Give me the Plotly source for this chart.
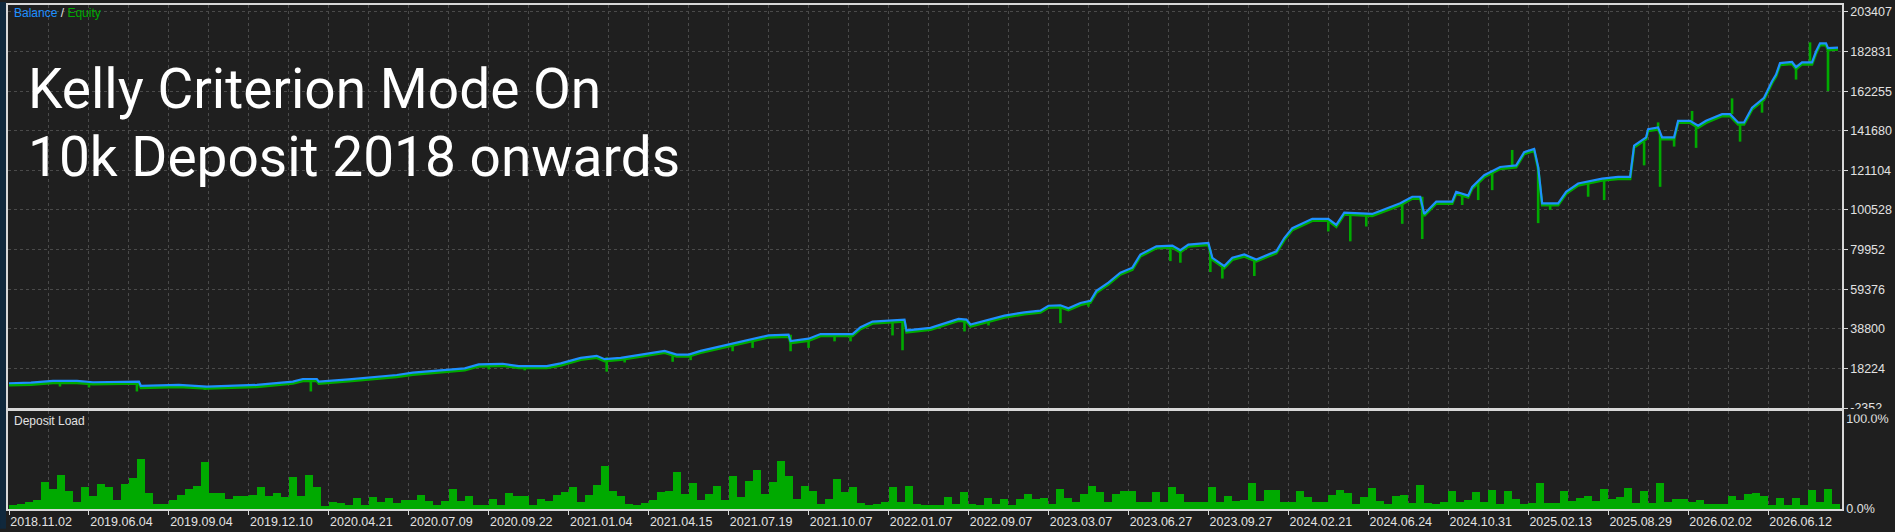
import plotly.graph_objects as go

# ---------------- data ----------------
date_labels = ["2018.11.02", "2019.06.04", "2019.09.04", "2019.12.10", "2020.04.21",
               "2020.07.09", "2020.09.22", "2021.01.04", "2021.04.15", "2021.07.19",
               "2021.10.07", "2022.01.07", "2022.09.07", "2023.03.07", "2023.06.27",
               "2023.09.27", "2024.02.21", "2024.06.24", "2024.10.31", "2025.02.13",
               "2025.08.29", "2026.02.02", "2026.06.12"]
date_label_trades = [0, 20, 40, 60, 80, 100, 120, 140, 160, 180, 200, 220, 240, 260,
                     280, 300, 320, 340, 360, 380, 400, 420, 440]
grid_trades = [10, 30, 50, 70, 90, 110, 130, 150, 170, 190, 210, 230, 250, 270, 290,
               310, 330, 350, 370, 390, 410, 430, 450]

balance_y_ticks = [-2352, 18224, 38800, 59376, 79952, 100528, 121104, 141680,
                   162255, 182831, 203407]
load_ticks = [0, 100]
load_tick_text = ["0.0%", "100.0%"]

balance_trade = [0, 5.5, 11, 17, 21, 27, 32.5, 33, 42.5, 49.5, 62, 71, 73.5, 77, 77.5,
                 85, 91, 97, 101, 107, 114, 117.5, 123.5, 127.5, 134.5, 138, 143, 147,
                 149, 153, 156.5, 164, 167, 170, 173, 180, 187, 190, 195, 195.5, 200,
                 203, 211, 213, 216, 224, 224.5, 230.5, 237.5, 239.5, 240.5, 245.5, 249,
                 254, 258, 260, 263, 265, 268, 270.5, 272, 275, 278, 281, 283, 287, 291,
                 293, 295, 300, 301, 304, 306, 309, 312, 317, 319, 321, 326, 330, 332,
                 334, 341, 348, 351, 353, 354, 357, 361, 362, 365, 366, 369, 373, 377,
                 379, 381.5, 382.5, 383.5, 387.5, 389.5, 392.5, 398.5, 402.5, 405.5,
                 406.5, 409.5, 410, 412.5, 413.5, 416.5, 417.5, 420.5, 422.5, 424.5,
                 428.5, 430.5, 432.5, 434, 436, 439, 441, 442, 443, 446, 447, 448.5, 451,
                 452, 453, 454.5, 455, 457.5]
balance_value = [10500, 10800, 11700, 11700, 11020, 11360, 11360, 9120, 9630, 8800,
                 9630, 11360, 12720, 12720, 11360, 12550, 13600, 14800, 16000, 17030,
                 18224, 20280, 20620, 19400, 19400, 20800, 23700, 24750, 23000, 23700,
                 24750, 27320, 25420, 25420, 27320, 30570, 34010, 35350, 35700, 32440,
                 33650, 36050, 36050, 39630, 42560, 43570, 37930, 39300, 43940, 43570,
                 41020, 43570, 45640, 47360, 48210, 50780, 51000, 49450, 52170, 53360,
                 58500, 62830, 67970, 70540, 77380, 81660, 82010, 79590, 82520, 83380,
                 75670, 71380, 75670, 77380, 74800, 79080, 85940, 91080, 95900, 95900,
                 92800, 99130, 98470, 103970, 107400, 107400, 98470, 104830, 104830,
                 109970, 108000, 112540, 118550, 122830, 123690, 130550, 132260, 122830,
                 103970, 103970, 109970, 114250, 116830, 117690, 117690, 133970, 138250,
                 142530, 143390, 138250, 138250, 146820, 146820, 144250, 146820, 150260,
                 150260, 145960, 145960, 153690, 158830, 167400, 170830, 176800, 177400,
                 174700, 177200, 177170, 182830, 187110, 187110, 184550, 184890]

# equity excursions away from balance (trade, from, to)
equity_spike_trade = [12.75, 20, 32, 49, 75.5, 110, 120, 129, 149.5, 154, 166, 170.5,
                      181, 186, 195.5, 200, 206.5, 210.5, 221, 223.5, 239, 245, 263,
                      270, 290.5, 293, 300.5, 303.5, 311.5, 330, 335.5, 339.5, 348.5,
                      353.5, 363.5, 367.5, 371, 376, 382.5, 385.5, 395, 399, 409, 412.5,
                      413, 416.5, 421, 422, 431, 433, 438.5, 447, 450.5, 455]
equity_spike_from = [11700, 11300, 11360, 8800, 12720, 17500, 20400, 19400, 24000, 23900,
                     26000, 25420, 31000, 33500, 35700, 33650, 36050, 36050, 43000,
                     43570, 43570, 43400, 51000, 53360, 82010, 80000, 80000, 71380,
                     75000, 95900, 99130, 98470, 104000, 107400, 109000, 115000, 120000,
                     123690, 122830, 103970, 115000, 116830, 136000, 143390, 140000,
                     138250, 146820, 144250, 150260, 145960, 157000, 176000, 177170,
                     184550]
equity_spike_to = [8810, 8290, 6240, 7080, 6240, 16170, 17710, 17190, 16530, 21310,
                   21650, 22500, 27120, 28870, 27120, 28870, 32270, 32270, 35350, 27640,
                   37410, 40500, 41730, 50270, 73950, 73110, 68270, 64880, 66220, 89360,
                   84220, 91930, 93330, 85420, 103100, 105670, 110820, 131700, 93680,
                   100530, 107400, 105670, 123690, 146000, 112540, 133450, 151970,
                   132770, 158500, 136020, 151080, 168260, 187600, 162255]

deposit_load = [5, 6, 8, 10, 30, 22, 38, 20, 8, 25, 15, 28, 24, 10, 28, 34, 55, 18, 6, 6,
                10, 16, 22, 26, 52, 18, 18, 11, 14, 14, 16, 25, 15, 18, 13, 36, 14, 38,
                24, 3, 8,
                7, 5, 12, 5, 13, 8, 12, 7, 10, 10, 16, 9, 5, 9, 22, 9, 15, 5, 5, 11,
                5, 18, 15, 15, 5, 11, 9, 16, 19, 24, 8, 16, 27, 48, 20,
                14, 6, 5, 7, 10, 19, 20, 41, 17, 29, 10, 17, 26, 10, 37, 13, 31, 43, 17,
                30, 53, 37, 11, 26, 20, 6, 11, 33, 19, 24, 7, 5, 6, 8, 24, 8, 26, 6, 5,
                5, 5, 13, 6, 19, 6, 4, 12, 6, 11, 5, 11, 17, 11, 12, 6, 22, 12, 8, 17,
                26, 19, 8, 17, 20, 20, 8, 8, 19, 8, 25, 17, 8, 8, 8, 25, 8, 14,
                9, 10, 29, 9, 21, 21, 8, 8, 20, 13, 8, 8, 16, 21, 18, 6, 13, 23, 9, 6,
                15, 16, 7, 27, 7, 6, 8, 20, 8, 10, 19, 8, 21, 6, 20, 11, 6, 7, 29, 7,
                7, 20, 9, 12, 15, 9, 22, 11, 13, 23, 7, 20, 7, 29, 8, 11, 11, 8, 10, 6,
                6, 6, 15, 10, 17, 18, 14, 5, 12, 5, 12, 5, 21, 8, 22, 6]
load_trade_step = 2  # one deposit-load reading every 2 trades

# ---------------- styling ----------------
W, H = 1895, 532
ML, MR, MT, MB = 8, 52, 3, 20
PW, PH = W - ML - MR, H - MT - MB
BG = "#1f1f1f"
GRID = "#4a4a4a"
FRAME = "#d8d8d8"
TXT = "#e2e2e2"
BLUE = "#1e90ff"
GREEN = "#00aa00"
TICKFONT = dict(family="Liberation Sans", size=12.5, color=TXT)
Y_MIN, Y_MAX = -2352, 207000
EQ_OFFSET = 1000  # draws the equity line ~2px under the balance line (visual offset)


def py(p):  # pixel row -> paper y
    return (H - MB - p) / PH


def px(p):  # pixel column -> paper x
    return (p - ML) / PW


main_dom = [py(410), 1.0]
load_dom = [0.0, py(413)]
x_range = [-0.25, 458.5]

fig = go.Figure()

# equity excursions (main axis, drawn first)
sx, sy = [], []
for t, a, b in zip(equity_spike_trade, equity_spike_from, equity_spike_to):
    sx += [t, t, None]
    sy += [a, b, None]
fig.add_trace(go.Scatter(x=sx, y=sy, mode="lines", line=dict(color=GREEN, width=2.6),
                         hoverinfo="skip", xaxis="x", yaxis="y", showlegend=False))
# equity base line (overlay axis shifted slightly so it shows below balance)
fig.add_trace(go.Scatter(x=balance_trade, y=balance_value, mode="lines",
                         line=dict(color=GREEN, width=2.6), hoverinfo="skip",
                         xaxis="x", yaxis="y3", showlegend=False))
# balance (top overlay, same scale as main axis)
fig.add_trace(go.Scatter(x=balance_trade, y=balance_value, mode="lines",
                         line=dict(color=BLUE, width=2.2), name="Balance",
                         xaxis="x", yaxis="y4", showlegend=False))
# deposit load
load_x = [i * load_trade_step + 1 for i in range(len(deposit_load))]
fig.add_trace(go.Bar(x=load_x, y=deposit_load, width=load_trade_step,
                     marker=dict(color=GREEN, line=dict(width=0)),
                     xaxis="x2", yaxis="y2", showlegend=False))

grid_common = dict(showgrid=True, gridcolor=GRID, griddash="3px,3px", gridwidth=1)

fig.update_layout(
    width=W, height=H,
    margin=dict(l=ML, r=MR, t=MT, b=MB, pad=0),
    paper_bgcolor=BG, plot_bgcolor=BG,
    bargap=0,
    xaxis=dict(domain=[0, 1], anchor="y", range=x_range, tickvals=date_label_trades,
               showticklabels=False, ticks="", zeroline=False,
               showline=True, mirror=True, linecolor=FRAME, linewidth=1.5,
               minor=dict(tickvals=grid_trades, showgrid=True, gridcolor=GRID,
                          griddash="3px,3px", ticks=""),
               **grid_common),
    yaxis=dict(domain=main_dom, anchor="x", side="right", range=[Y_MIN, Y_MAX],
               tickvals=balance_y_ticks, ticktext=[str(v) for v in balance_y_ticks],
               ticks="outside", ticklen=4, tickcolor=FRAME, tickfont=TICKFONT,
               zeroline=False, showline=True, mirror=True, linecolor=FRAME,
               linewidth=1.5, **grid_common),
    yaxis3=dict(domain=main_dom, anchor="x", overlaying="y", side="right",
                range=[Y_MIN + EQ_OFFSET, Y_MAX + EQ_OFFSET], visible=False,
                showgrid=False, zeroline=False),
    yaxis4=dict(domain=main_dom, anchor="x", overlaying="y", side="right",
                range=[Y_MIN, Y_MAX], visible=False, showgrid=False, zeroline=False),
    xaxis2=dict(domain=[0, 1], anchor="y2", range=x_range, matches="x",
                tickvals=date_label_trades, ticktext=date_labels,
                ticklabelposition="outside right", ticks="outside", ticklen=4,
                tickcolor=FRAME, tickfont=TICKFONT, zeroline=False,
                showline=True, mirror=True, linecolor=FRAME, linewidth=1.5,
                minor=dict(tickvals=grid_trades, showgrid=True, gridcolor=GRID,
                           griddash="3px,3px", ticks=""),
                **grid_common),
    yaxis2=dict(domain=load_dom, anchor="x2", side="right", range=[0, 108.8],
                tickvals=load_ticks, ticktext=load_tick_text, ticks="",
                tickfont=TICKFONT, showgrid=False, zeroline=False,
                showline=True, mirror=True, linecolor=FRAME, linewidth=1.5),
)

fig.update_layout(shapes=[
    # window edge strip on the left
    dict(type="rect", xref="paper", yref="paper", x0=px(0), x1=px(6),
         y0=py(H), y1=py(0), fillcolor="#10283c", line=dict(width=0), layer="above"),
    # clip lower part of the bottom balance label (hidden by the lower pane)
    dict(type="rect", xref="paper", yref="paper", x0=px(1846), x1=px(1895),
         y0=py(416.5), y1=py(411), fillcolor=BG, line=dict(width=0), layer="above"),
])

fig.update_layout(annotations=[
    dict(xref="paper", yref="paper", x=px(12), y=py(11), xanchor="left",
         yanchor="middle", showarrow=False,
         text=f'<span style="color:{BLUE}">Balance</span>'
              f'<span style="color:#e0e0e0"> / </span>'
              f'<span style="color:{GREEN}">Equity</span>',
         font=dict(family="Liberation Sans", size=12)),
    dict(xref="paper", yref="paper", x=px(12), y=py(423), xanchor="left",
         yanchor="middle", showarrow=False, text="Deposit Load",
         font=dict(family="Liberation Sans", size=12, color=TXT)),
    dict(xref="paper", yref="paper", x=px(26), y=py(88), xanchor="left",
         yanchor="middle", showarrow=False, text="Kelly Criterion Mode On",
         font=dict(family="Roboto", size=55, color="#ffffff")),
    dict(xref="paper", yref="paper", x=px(26), y=py(157), xanchor="left",
         yanchor="middle", showarrow=False, text="10k Deposit 2018 onwards",
         font=dict(family="Roboto", size=55, color="#ffffff")),
])

fig.write_html("out.html",
               config={"displayModeBar": False},
               post_script="document.body.style.margin='0';"
                           "document.body.style.background='#1f1f1f';")
